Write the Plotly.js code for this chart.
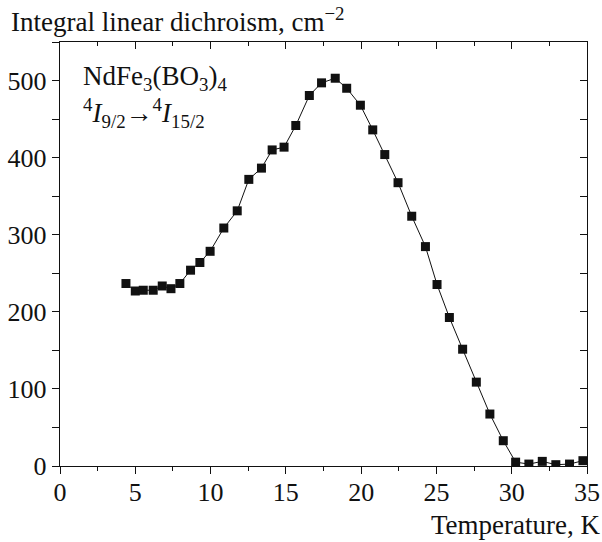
<!DOCTYPE html>
<html>
<head>
<meta charset="utf-8">
<script src="https://cdn.plot.ly/plotly-3.0.1.min.js"></script>
<style>html,body{margin:0;padding:0;background:#fff;}#chart{width:602px;height:542px;}</style>
</head>
<body>
<div id="chart"></div>
<script>
const temperature = [4.38, 5.00, 5.53, 6.19, 6.79, 7.37, 7.96, 8.67, 9.29, 9.97,
  10.88, 11.77, 12.54, 13.38, 14.09, 14.88, 15.66, 16.56, 17.37, 18.28,
  19.04, 19.95, 20.77, 21.57, 22.45, 23.36, 24.27, 25.04, 25.86, 26.74,
  27.65, 28.55, 29.44, 30.26, 31.14, 32.03, 32.93, 33.84, 34.73];
const dichroism = [236.7, 227, 228, 228, 233.5, 230, 236.7, 254, 264, 278.5,
  308.7, 331, 371.8, 386.4, 410, 413.6, 441.7, 480.6, 497, 503,
  490, 468, 436, 404, 367.5, 324, 284.6, 235.4, 192.6, 151.5,
  108.8, 67.4, 32.8, 5, 2.5, 6, 1.7, 2.5, 6.9];
const xTicks = [0, 5, 10, 15, 20, 25, 30, 35];
const yTicks = [0, 100, 200, 300, 400, 500];

const font = 'Liberation Serif, Times New Roman, serif';
const xRange = [0, 35];
const yRange = [0, 550];

const trace = {
  x: temperature, y: dichroism, type: 'scatter', mode: 'lines+markers',
  line: {color: '#111', width: 1},
  marker: {symbol: 'square', size: 9, color: '#111'},
  cliponaxis: true, showlegend: false, hoverinfo: 'skip'
};

const layout = {
  width: 602, height: 542,
  margin: {l: 60, r: 15, t: 42, b: 76},
  paper_bgcolor: '#fff', plot_bgcolor: '#fff',
  font: {family: font, size: 25, color: '#111'},
  showlegend: false,
  xaxis: {
    range: xRange, tickvals: xTicks, ticktext: xTicks.map(String),
    ticks: 'outside', ticklen: 7, tickwidth: 1, tickcolor: '#111',
    minor: {dtick: 2.5, tick0: 0, ticks: 'outside', ticklen: 4, tickcolor: '#111'},
    showline: true, linecolor: '#111', linewidth: 1.2,
    showgrid: false, zeroline: false, fixedrange: true, ticklabelstandoff: -4,
    tickfont: {family: font, size: 26, color: '#111'}
  },
  yaxis: {
    range: yRange, tickvals: yTicks, ticktext: yTicks.map(String),
    ticks: 'outside', ticklen: 7, tickwidth: 1, tickcolor: '#111',
    minor: {dtick: 50, tick0: 0, ticks: 'outside', ticklen: 7, tickcolor: '#111'},
    showline: true, linecolor: '#111', linewidth: 1.2,
    showgrid: false, zeroline: false, fixedrange: true,
    tickfont: {family: font, size: 26, color: '#111'}
  },
  xaxis2: {
    overlaying: 'x', side: 'top', range: xRange, tickvals: xTicks,
    showticklabels: false, ticks: 'inside', ticklen: 7, tickcolor: '#111',
    minor: {dtick: 2.5, tick0: 0, ticks: 'inside', ticklen: 4, tickcolor: '#111'},
    showline: true, linecolor: '#111', linewidth: 1.2, showgrid: false, zeroline: false
  },
  yaxis2: {
    overlaying: 'y', side: 'right', range: yRange, tickvals: yTicks,
    showticklabels: false, ticks: 'inside', ticklen: 7, tickcolor: '#111',
    minor: {dtick: 50, tick0: 0, ticks: 'inside', ticklen: 7, tickcolor: '#111'},
    showline: true, linecolor: '#111', linewidth: 1.2, showgrid: false, zeroline: false
  },
  annotations: [
    {text: 'Integral linear dichroism, cm<sup>−2</sup>', xref: 'paper', yref: 'paper',
     x: -0.0968, y: 1.052, xanchor: 'left', yanchor: 'middle', showarrow: false,
     font: {family: font, size: 27, color: '#111'}},
    {text: 'Temperature, K', xref: 'paper', yref: 'paper',
     x: 1.031, y: -0.139, xanchor: 'right', yanchor: 'middle', showarrow: false,
     font: {family: font, size: 27, color: '#111'}},
    {text: 'NdFe<sub>3</sub>(BO<sub>3</sub>)<sub>4</sub>', xref: 'paper', yref: 'paper',
     x: 0.04, y: 0.915, xanchor: 'left', yanchor: 'middle', showarrow: false,
     font: {family: font, size: 27, color: '#111'}},
    {text: '<sup>4</sup><i>I</i><sub>9/2</sub>→<sup>4</sup><i>I</i><sub>15/2</sub>', xref: 'paper', yref: 'paper',
     x: 0.04, y: 0.832, xanchor: 'left', yanchor: 'middle', showarrow: false,
     font: {family: font, size: 27, color: '#111'}}
  ]
};

const axisTraceX2 = {x: [0], y: [0], xaxis: 'x2', yaxis: 'y', mode: 'markers', marker: {opacity: 0}, showlegend: false, hoverinfo: 'skip'};
const axisTraceY2 = {x: [0], y: [0], xaxis: 'x', yaxis: 'y2', mode: 'markers', marker: {opacity: 0}, showlegend: false, hoverinfo: 'skip'};

Plotly.newPlot('chart', [axisTraceX2, axisTraceY2, trace], layout, {displayModeBar: false, staticPlot: true});
</script>
</body>
</html>
